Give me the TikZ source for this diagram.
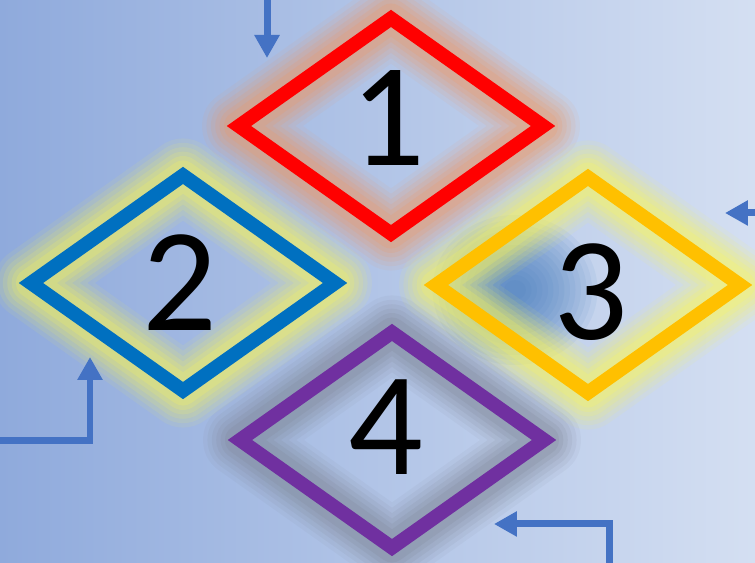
\documentclass[tikz,border=0pt]{standalone}
\usepackage{fontspec}
\setmainfont{Carlito}
\usetikzlibrary{shapes.geometric, arrows.meta}
\definecolor{bgleft}{RGB}{143,170,220}
\definecolor{bgright}{RGB}{212,223,242}
\definecolor{flowblue}{RGB}{68,114,196}
\definecolor{redglow}{RGB}{240,150,95}
\definecolor{yellowglow}{RGB}{255,250,80}
\definecolor{grayglow}{RGB}{125,132,148}
\definecolor{stepred}{RGB}{255,0,0}
\definecolor{stepblue}{RGB}{0,112,192}
\definecolor{stepgold}{RGB}{255,192,0}
\definecolor{steppurple}{RGB}{112,48,160}
\definecolor{spotblue}{RGB}{55,115,185}
\tikzstyle{stepbox} = [diamond, minimum width=6.2cm, minimum height=4.42cm, inner sep=0pt, line width=8pt]
\tikzstyle{number} = [inner sep=0pt, font=\fontsize{84}{84}\selectfont, text=black]
\tikzstyle{arrow} = [draw=flowblue, line width=0.14cm, -{Triangle[width=0.48cm,length=0.46cm]}]
\tikzset{glow/.style={preaction={draw=#1, line join=round, line width=42pt, opacity=0.08}, preaction={draw=#1, line join=round, line width=37pt, opacity=0.1}, preaction={draw=#1, line join=round, line width=32pt, opacity=0.12}, preaction={draw=#1, line join=round, line width=27pt, opacity=0.14}, preaction={draw=#1, line join=round, line width=22pt, opacity=0.17}, preaction={draw=#1, line join=round, line width=17pt, opacity=0.2}}}

\begin{document}
\begin{tikzpicture}[x=0.02cm, y=-0.02cm]
				\useasboundingbox (0,0) rectangle (755,563);
				\shade [left color=bgleft, right color=bgright] (0,0) rectangle (755,563);
				\foreach \r in {75,70,...,10}
					\fill [spotblue, opacity=0.07] (515,290) ellipse ({\r*1.1} and \r);
				
				\node (step1) [stepbox, draw=stepred, glow=redglow] at (391,126) {};
				\node (step2) [stepbox, draw=stepblue, glow=yellowglow] at (183,283) {};
				\node (step3) [stepbox, draw=stepgold, glow=yellowglow] at (588,285) {};
				\node (step4) [stepbox, draw=steppurple, glow=grayglow] at (392,440) {};
				
				\node (num1) [number] at (388,118) {1};
				\node (num2) [number] at (180,283) {2};
				\node (num3) [number] at (591,292) {3};
				\node (num4) [number] at (386,427) {4};
				
				\coordinate (in1) at (267,0);
				\coordinate (in1tip) at (267,58);
				\coordinate (in2) at (0,441);
				\coordinate (in2tip) at (90,357);
				\coordinate (in3) at (755,213);
				\coordinate (in3tip) at (725,213);
				\coordinate (in4) at (609,563);
				\coordinate (in4tip) at (494,524);
				
				\draw [arrow] (in1) -- (in1tip);
				\draw [arrow] (in2) -| (in2tip);
				\draw [arrow] (in3) -- (in3tip);
				\draw [arrow] (in4) |- (in4tip);
				
\end{tikzpicture}
\end{document}
